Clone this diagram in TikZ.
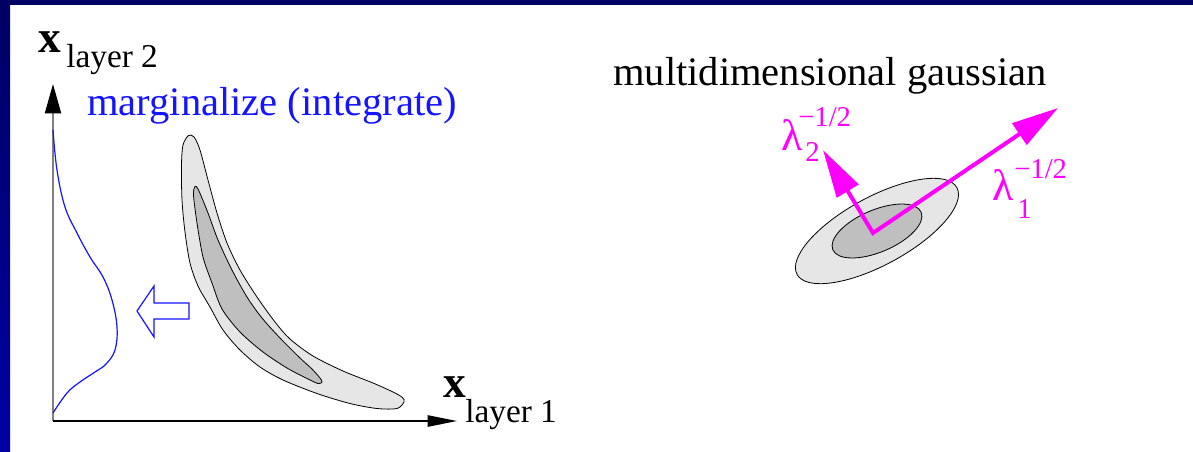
\documentclass[tikz,border=0pt]{standalone}
\usepackage{fontspec}
\setmainfont{Liberation Serif}
\usetikzlibrary{arrows.meta}
\definecolor{navy}{RGB}{0,0,100}
\definecolor{navyb}{RGB}{0,0,165}
\definecolor{lgray}{RGB}{230,230,230}
\definecolor{mgray}{RGB}{191,191,191}
\definecolor{axgray}{RGB}{128,128,128}
\definecolor{pblue}{RGB}{20,20,255}
\definecolor{pmag}{RGB}{255,0,255}
\begin{document}
\begin{tikzpicture}[x=0.75pt,y=-0.75pt,
  txt/.style={inner sep=0pt, anchor=base west},
  bigtxt/.style={txt, font=\fontsize{30.4pt}{36pt}\selectfont},
  boldx/.style={txt, font=\fontsize{34pt}{40pt}\selectfont\bfseries},
  subtxt/.style={txt, font=\fontsize{25pt}{30pt}\selectfont},
  lam/.style={txt, text=pmag, font=\fontsize{33pt}{38pt}\selectfont},
  lamscript/.style={txt, text=pmag, font=\fontsize{21.5pt}{26pt}\selectfont},
  contour/.style={draw=black, line width=0.6pt},
  outerfill/.style={contour, fill=lgray},
  innerfill/.style={contour, fill=mgray}]
\useasboundingbox (0,0) rectangle (1193,451);
\fill[white] (0,0) rectangle (1193,451);
\shade[top color=navy, bottom color=navyb] (0,0) rectangle (10,451);
\fill[navy] (0,0) rectangle (1193,5);

% axes
\coordinate (O) at (53,421);
\coordinate (Ytip) at (53,84);
\coordinate (Xtip) at (457,421);
\draw[axgray, line width=1.5pt, -{Triangle[length=22pt,width=12pt,color=black]}] (O) -- (Ytip);
\draw[black, line width=1.1pt, -{Triangle[length=22pt,width=8.5pt]}] (O) -- (Xtip);

% axis labels
\node[boldx] (x2) at (38,52) {x};
\node[subtxt] (l2) at (66,67) {layer 2};
\node[boldx] (x1) at (443,397) {x};
\node[subtxt] (l1) at (465,422) {layer 1};

\node[bigtxt, text=pblue] (marg) at (87,115) {marginalize (integrate)};
\node[bigtxt] (multi) at (613,85) {multidimensional gaussian};

% banana shaped density
\path[outerfill] plot[smooth cycle, tension=0.5] coordinates {
 (188.5,135.5) (194,137) (200,150) (208,180) (217,213) (227,243) (240,270)
 (257,297) (275,322) (290,339) (313,356) (343,371) (373,383) (393,392)
 (402.5,397.5) (404,402) (397,408.5) (377,408.5) (350,403.5) (317,393.5)
 (283,380) (260,367) (240,350) (223,330) (210,307) (198,286) (190,263)
 (185,232) (182,200) (181.5,165) (183,145)};
\path[innerfill] plot[smooth cycle, tension=0.5] coordinates {
 (195,186.5) (198.5,190) (208,213) (218,240) (232,270) (247,297) (262,318)
 (280,338) (300,358) (312,369) (320,378) (322,382) (318,383.5) (307,378.5)
 (287,368) (263,352) (240,332) (222,309) (212,283) (203,257) (197,223)
 (193.5,195)};

% marginal curve
\draw[pblue, line width=0.9pt] plot[smooth, tension=0.65] coordinates {
 (53,130) (57,170) (65,207) (77,233) (90,257) (103,277) (112,300) (117,327)
 (115,350) (106,364) (95,372) (80,382) (67,393) (53,413)};

% hollow arrow
\draw[pblue, line width=0.9pt, line join=miter]
 (137,311) -- (154,286) -- (154,303) -- (189,303) -- (189,319) -- (154,319) -- (154,337) -- cycle;

% gaussian ellipses
\coordinate (C) at (877,231);
\path[outerfill, rotate around={28.5:(C)}] (C) ellipse [x radius=68.2pt, y radius=25.5pt];
\path[innerfill, rotate around={23:(C)}] (C) ellipse [x radius=36pt, y radius=15.8pt];

% eigen-direction arrows
\coordinate (M) at (873,233);
\coordinate (T1) at (1058,108);
\coordinate (T2) at (823,150);
\draw[pmag, line width=3pt, line join=miter,
  {Triangle[length=36pt,width=18.5pt]}-{Triangle[length=35pt,width=19pt]}] (T2) -- (M) -- (T1);

% lambda labels
\node[lam] (lam2) at (781,150) {λ};
\node[lamscript] (lam2sub) at (805,161) {2};
\node[lamscript] (lam2sup) at (798,126) {−1/2};
\node[lam] (lam1) at (992,200) {λ};
\node[lamscript] (lam1sub) at (1017,218) {1};
\node[lamscript] (lam1sup) at (1014,178) {−1/2};
\end{tikzpicture}
\end{document}
